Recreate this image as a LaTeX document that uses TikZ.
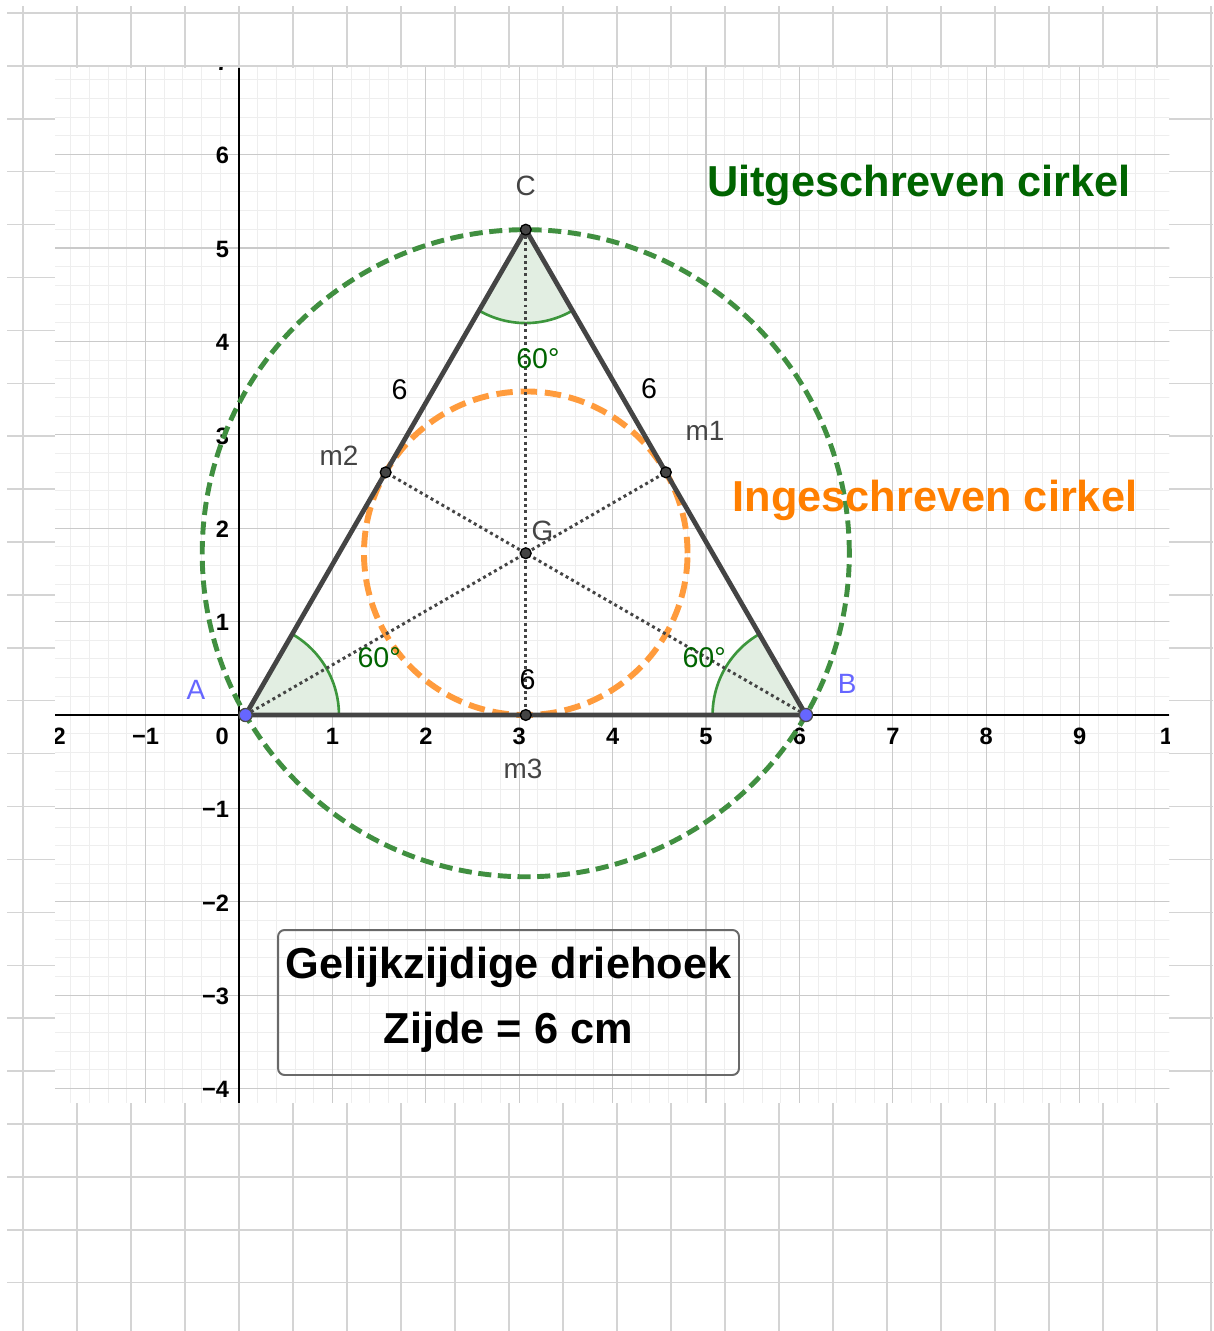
\documentclass[tikz,border=0pt]{standalone}
\usepackage{fontspec}
\setmainfont{Liberation Sans}
\usetikzlibrary{calc}

\definecolor{rastergrijs}{RGB}{212,212,212}
\definecolor{fijnraster}{RGB}{238,238,238}
\definecolor{grofraster}{RGB}{202,202,202}
\definecolor{lijngrijs}{RGB}{68,68,68}
\definecolor{puntblauw}{RGB}{102,102,255}
\definecolor{cirkelgroen}{RGB}{64,143,64}
\definecolor{cirkeloranje}{RGB}{255,155,60}
\definecolor{tekstgroen}{RGB}{0,100,0}
\definecolor{tekstoranje}{RGB}{255,127,0}
\definecolor{hoekgroen}{RGB}{60,150,60}
\definecolor{hoekvulling}{RGB}{226,238,226}

\begin{document}
\begin{tikzpicture}[x=1cm,y=1cm,
	buitenraster/.style={draw=rastergrijs,line width=0.45pt},
	aslabel/.style={inner sep=0pt,font=\fontsize{7.2}{8}\selectfont\bfseries},
	zijde/.style={lijngrijs,line width=1.45pt,line join=round},
	zwaartelijn/.style={lijngrijs,line width=0.9pt,dash pattern=on 0.9pt off 1pt},
	omcirkel/.style={cirkelgroen,line width=1.5pt,dash pattern=on 4pt off 2pt},
	incirkel/.style={cirkeloranje,line width=1.8pt,dash pattern=on 5pt off 2.4pt},
	hoekboog/.style={hoekgroen,line width=0.8pt},
	grijspunt/.style={circle,draw=black,line width=0.4pt,fill=lijngrijs,inner sep=0pt,minimum size=3.3pt},
	blauwpunt/.style={circle,draw=black!70,line width=0.4pt,fill=puntblauw,inner sep=0pt,minimum size=4pt},
	puntlabel/.style={inner sep=0pt,text=lijngrijs,font=\fontsize{8.5}{10}\selectfont},
	hoeklabel/.style={inner sep=0pt,text=tekstgroen,font=\fontsize{8.7}{10}\selectfont},
	lengtelabel/.style={inner sep=0pt,text=black,font=\fontsize{8.7}{10}\selectfont},
	kop/.style={inner sep=0pt,font=\fontsize{13.2}{15}\selectfont\bfseries}]
	
	\useasboundingbox (-2.559,-6.595) rectangle (10.428,7.655);
	
	% papier
	\foreach \k in {-4,...,18}
		\draw[buitenraster] ({0.578*\k},7.59) -- ({0.578*\k},-6.595);
	\foreach \k in {0,...,24}
		\draw[buitenraster] (-2.484,{7.516-0.5664*\k}) -- (10.428,{7.516-0.5664*\k});
	
	% tekenvenster
	\fill[white] (-1.97,-4.15) rectangle (9.96,6.93);
	\begin{scope}
		\clip (-1.97,-4.15) rectangle (9.96,6.93);
		\draw[fijnraster,line width=0.3pt] (-2,-5) grid[step=0.2] (10,7);
		\draw[grofraster,line width=0.35pt] (-2,-5) grid[step=1] (10,7);
		\draw[black,line width=0.35pt] (-1.97,0) -- (9.96,0);
		\draw[black,line width=0.35pt] (0,-4.15) -- (0,6.93);
		\foreach \x/\t in {-2/−2,-1/−1,1/1,2/2,3/3,4/4,5/5,6/6,7/7,8/8,9/9,10/10}
			\node[aslabel] (x\x) at (\x,-0.225) {\t};
		\node[aslabel] (oorsprong) at (-0.18,-0.225) {0};
		\foreach \y/\t in {-4/−4,-3/−3,-2/−2,-1/−1,1/1,2/2,3/3,4/4,5/5,6/6,7/7}
			\node[aslabel,anchor=east] (y\y) at (-0.1,{\y-0.012}) {\t};
	\end{scope}
	
	\coordinate (A) at (0.07,0);
	\coordinate (B) at (6.07,0);
	\coordinate (C) at (3.07,5.196);
	\coordinate (m1) at (4.57,2.598);
	\coordinate (m2) at (1.57,2.598);
	\coordinate (m3) at (3.07,0);
	\coordinate (G) at (3.07,1.732);
	
	% hoeken van 60 graden
	\fill[hoekvulling] (A) -- ++(0:1) arc[start angle=0,end angle=60,radius=1] -- cycle;
	\fill[hoekvulling] (B) -- ++(120:1) arc[start angle=120,end angle=180,radius=1] -- cycle;
	\fill[hoekvulling] (C) -- ++(240:1) arc[start angle=240,end angle=300,radius=1] -- cycle;
	\draw[hoekboog] ($(A)+(0:1)$) arc[start angle=0,end angle=60,radius=1];
	\draw[hoekboog] ($(B)+(120:1)$) arc[start angle=120,end angle=180,radius=1];
	\draw[hoekboog] ($(C)+(240:1)$) arc[start angle=240,end angle=300,radius=1];
	
	\draw[omcirkel] (G) circle[radius=3.464];
	\draw[incirkel] (G) circle[radius=1.732];
	
	\draw[zwaartelijn] (C) -- (m3);
	\draw[zwaartelijn] (A) -- (m1);
	\draw[zwaartelijn] (B) -- (m2);
	\draw[zijde] (A) -- (B) -- (C) -- cycle;
	
	\node[grijspunt] (pC) at (C) {};
	\node[grijspunt] (pm1) at (m1) {};
	\node[grijspunt] (pm2) at (m2) {};
	\node[grijspunt] (pm3) at (m3) {};
	\node[grijspunt] (pG) at (G) {};
	\node[blauwpunt] (pA) at (A) {};
	\node[blauwpunt] (pB) at (B) {};
	
	\node[puntlabel,text=puntblauw] (labA) at (-0.46,0.27) {A};
	\node[puntlabel,text=puntblauw] (labB) at (6.51,0.33) {B};
	\node[puntlabel] (labC) at (3.07,5.67) {C};
	\node[puntlabel] (labm1) at (4.99,3.04) {m1};
	\node[puntlabel] (labm2) at (1.07,2.78) {m2};
	\node[puntlabel] (labm3) at (3.04,-0.58) {m3};
	\node[puntlabel] (labG) at (3.25,1.97) {G};
	
	\node[hoeklabel] (hoekA) at (1.50,0.61) {60°};
	\node[hoeklabel] (hoekB) at (4.98,0.61) {60°};
	\node[hoeklabel] (hoekC) at (3.20,3.82) {60°};
	
	\node[lengtelabel] (zijdeAC) at (1.72,3.48) {6};
	\node[lengtelabel] (zijdeBC) at (4.39,3.49) {6};
	\node[lengtelabel] (zijdeAB) at (3.09,0.375) {6};
	
	\node[kop,text=tekstgroen] (omtekst) at (7.28,5.67) {Uitgeschreven cirkel};
	\node[kop,text=tekstoranje] (intekst) at (7.45,2.30) {Ingeschreven cirkel};
	
	\draw[lijngrijs!80,line width=0.6pt,rounded corners=2pt] (0.418,-2.302) rectangle (5.353,-3.854);
	\node[kop] (titel1) at (2.885,-2.70) {Gelijkzijdige driehoek};
	\node[kop] (titel2) at (2.885,-3.40) {Zijde = 6 cm};
	
\end{tikzpicture}
\end{document}
